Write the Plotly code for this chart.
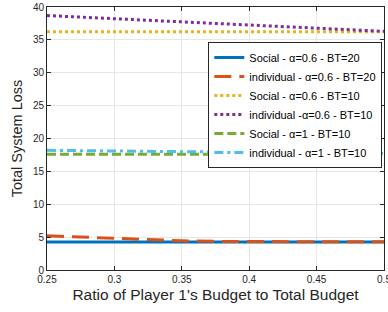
import plotly.graph_objects as go

ratio = [0.25, 0.275, 0.3, 0.325, 0.35, 0.375, 0.4, 0.425, 0.45, 0.475, 0.5]
social_a06_bt20 = [4.25, 4.25, 4.25, 4.25, 4.25, 4.25, 4.25, 4.25, 4.25, 4.25, 4.25]
indiv_a06_bt20 = [5.2, 5.0, 4.8, 4.6, 4.45, 4.35, 4.3, 4.3, 4.3, 4.3, 4.3]
social_a06_bt10 = [36.25, 36.25, 36.25, 36.25, 36.25, 36.25, 36.25, 36.25, 36.25, 36.25, 36.25]
indiv_a06_bt10 = [38.7, 38.45, 38.2, 37.95, 37.7, 37.5, 37.25, 37.0, 36.8, 36.55, 36.3]
social_a1_bt10 = [17.6, 17.6, 17.6, 17.6, 17.6, 17.6, 17.6, 17.6, 17.6, 17.6, 17.6]
indiv_a1_bt10 = [18.2, 18.15, 18.1, 18.05, 18.0, 17.95, 17.9, 17.85, 17.8, 17.75, 17.7]

names = ["Social - α=0.6 - BT=20", "individual - α=0.6 - BT=20",
         "Social - α=0.6 - BT=10", "individual -α=0.6 - BT=10",
         "Social - α=1 - BT=10", "individual - α=1 - BT=10"]
series = [social_a06_bt20, indiv_a06_bt20, social_a06_bt10, indiv_a06_bt10, social_a1_bt10, indiv_a1_bt10]
colors = ["#0072BD", "#D95319", "#EDB120", "#7E2F8E", "#77AC30", "#4DBEEE"]
dashes = ["solid", "17px,8px", "3px,3px", "3px,3px", "9px,4px", "9px,4px,3px,4px"]

x_ticks = [0.25, 0.3, 0.35, 0.4, 0.45, 0.5]
x_ticklabels = ["0.25", "0.3", "0.35", "0.4", "0.45", "0.5"]

fig = go.Figure()
for n, s, c, d in zip(names, series, colors, dashes):
    fig.add_trace(go.Scatter(x=ratio, y=s, name=n, mode="lines",
                             line=dict(color=c, width=3, dash=d)))

font = "Arial"
fig.update_layout(
    width=388, height=312,
    margin=dict(l=47, r=4, t=7, b=42, autoexpand=False),
    paper_bgcolor="white", plot_bgcolor="white",
    font=dict(family=font, color="#262626", size=10),
    showlegend=True,
    legend=dict(x=0.995, y=0.867, xanchor="right", yanchor="top",
                bordercolor="#262626", borderwidth=1, bgcolor="white",
                font=dict(size=11, color="#000000"),
                itemwidth=30, tracegroupgap=0),
)
fig.update_xaxes(range=[0.25, 0.5], tickvals=x_ticks, ticktext=x_ticklabels,
                 showgrid=True, gridcolor="#E6E6E6", gridwidth=1,
                 showline=True, linecolor="#262626", linewidth=1, mirror="ticks",
                 ticks="inside", ticklen=4, tickcolor="#262626",
                 zeroline=False, automargin=False, ticklabeloverflow="allow",
                 title=dict(text="Ratio of Player 1's Budget to Total Budget",
                            font=dict(size=15.5, color="#262626"), standoff=5))
fig.update_yaxes(range=[0, 40], dtick=5,
                 showgrid=True, gridcolor="#E6E6E6", gridwidth=1,
                 showline=True, linecolor="#262626", linewidth=1, mirror="ticks",
                 ticks="inside", ticklen=4, tickcolor="#262626",
                 zeroline=False, automargin=False,
                 title=dict(text="Total System Loss",
                            font=dict(size=14.5, color="#262626"), standoff=6))

fig.write_html("out.html", config={"displayModeBar": False},
               post_script="document.body.style.margin='0';document.body.style.padding='0';window.dispatchEvent(new Event('resize'));")
